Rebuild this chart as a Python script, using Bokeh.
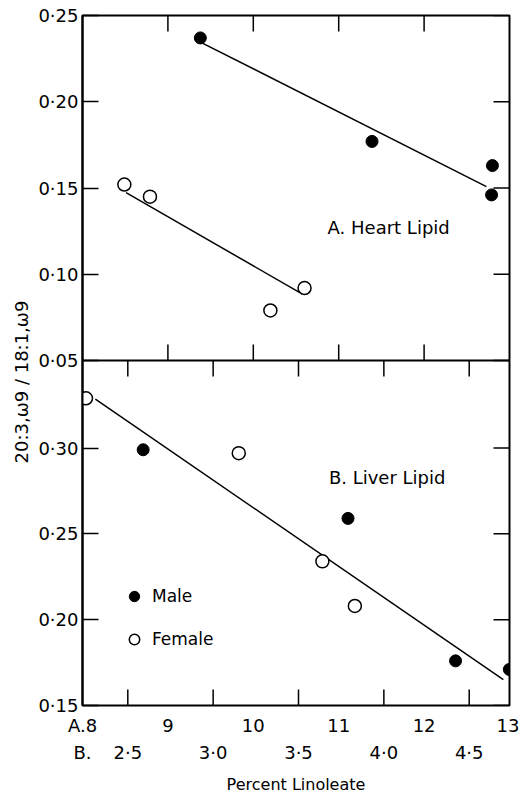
import math
from bokeh.plotting import figure
from bokeh.models import Range1d, LinearAxis, FixedTicker, Label, Span, Legend, LegendItem, Title
from bokeh.embed import file_html
from bokeh.resources import INLINE

# ---------------- data ----------------
# A. Heart lipid  (x: percent linoleate, scale A)
heart_male_x = [9.38, 11.39, 12.80, 12.79]
heart_male_y = [0.237, 0.177, 0.163, 0.146]
heart_female_x = [8.49, 8.79, 10.20, 10.60]
heart_female_y = [0.152, 0.145, 0.079, 0.092]
heart_male_fit_x = [9.38, 12.73]
heart_male_fit_y = [0.2346, 0.1508]
heart_female_fit_x = [8.51, 10.54]
heart_female_fit_y = [0.1473, 0.0895]

# B. Liver lipid  (x: percent linoleate, scale B)
liver_male_x = [2.59, 3.79, 4.42, 4.735]
liver_male_y = [0.299, 0.259, 0.176, 0.171]
liver_female_x = [2.255, 3.15, 3.64, 3.83]
liver_female_y = [0.329, 0.297, 0.234, 0.208]
liver_fit_x = [2.31, 4.70]
liver_fit_y = [0.3285, 0.1651]

# ticks
a_ticks = [8, 9, 10, 11, 12, 13]
a_tick_labels = ["A.8", "9", "10", "11", "12", "13"]
a_inner_ticks = [9, 10, 11, 12]
b_ticks = [2.5, 3.0, 3.5, 4.0, 4.5]
b_tick_labels = ["2·5", "3·0", "3·5", "4·0", "4·5"]
heart_y_ticks = [0.05, 0.10, 0.15, 0.20, 0.25]
heart_y_labels = ["0·05", "0·10", "0·15", "0·20", "0·25"]
liver_y_ticks = [0.15, 0.20, 0.25, 0.30]
liver_y_labels = ["0·15", "0·20", "0·25", "0·30"]

# ---------------- ranges ----------------
A_LO, A_HI = 8.0, 13.0
B_LO, B_HI = 2.2346, 4.736
HEART_LO, HEART_HI = 0.05, 0.25
LIVER_LO, LIVER_HI = 0.15, 0.351
TOP_FRAC = 0.5  # share of the frame height used by panel A

Y_LO = LIVER_LO
Y_HI = LIVER_LO + (LIVER_HI - LIVER_LO) / (1 - TOP_FRAC)
T_LO = HEART_HI - (HEART_HI - HEART_LO) / TOP_FRAC
T_HI = HEART_HI


def to_primary(v):
    return Y_LO + (v - T_LO) / (T_HI - T_LO) * (Y_HI - Y_LO)


Y_HI = to_primary(HEART_HI)

FONT = "DejaVu Sans"
FS = "18px"
INK = "black"
TICK = 16

p = figure(width=519, height=796, x_range=Range1d(A_LO, A_HI), y_range=Range1d(Y_LO, Y_HI),
           x_axis_location=None, y_axis_location=None, toolbar_location=None,
           output_backend="svg", min_border_left=82, min_border_right=10,
           min_border_top=15, min_border_bottom=80)
p.extra_x_ranges = {"B": Range1d(B_LO, B_HI)}
p.extra_y_ranges = {"top": Range1d(T_LO, T_HI)}
p.grid.visible = False
p.outline_line_color = INK
p.outline_line_width = 2
p.background_fill_color = "white"
p.border_fill_color = "white"

# left axis: ticks + labels of both panels
left_ticks = liver_y_ticks + [to_primary(v) for v in heart_y_ticks]
left_labels = dict(zip(left_ticks, liver_y_labels + heart_y_labels))
yl = LinearAxis(ticker=FixedTicker(ticks=left_ticks), major_label_overrides=left_labels)
yl.major_tick_in = TICK
yl.major_tick_out = 0
yl.minor_tick_in = 0
yl.minor_tick_out = 0
yl.major_tick_line_width = 1.5
yl.major_tick_line_color = INK
yl.axis_line_width = 2
yl.axis_line_color = INK
yl.major_label_standoff = 4
yl.major_label_text_font = FONT
yl.major_label_text_font_size = FS
yl.major_label_text_color = INK
p.add_layout(yl, "left")

# y axis title, shared by both panels
p.add_layout(Title(text="20:3,ω9 / 18:1,ω9", align="left", offset=242, standoff=8,
                   text_font=FONT, text_font_size=FS, text_font_style="normal",
                   text_color=INK), "left")

# row of A labels
xb1 = LinearAxis(ticker=FixedTicker(ticks=a_ticks),
                 major_label_overrides=dict(zip(a_ticks, a_tick_labels)))
xb1.axis_line_color = None
xb1.major_tick_line_color = None
xb1.minor_tick_line_color = None
xb1.major_tick_in = 0
xb1.major_tick_out = 0
xb1.minor_tick_out = 0
xb1.major_label_standoff = 9
xb1.major_label_text_font = FONT
xb1.major_label_text_font_size = FS
xb1.major_label_text_color = INK
p.add_layout(xb1, "below")

# row of B labels (with its "B." header at the left edge) + axis title
b_row_ticks = [B_LO] + b_ticks
b_row_labels = ["B."] + b_tick_labels
xb2 = LinearAxis(x_range_name="B", ticker=FixedTicker(ticks=b_row_ticks),
                 major_label_overrides=dict(zip(b_row_ticks, b_row_labels)),
                 axis_label="Percent Linoleate")
xb2.axis_line_color = None
xb2.major_tick_line_color = None
xb2.minor_tick_line_color = None
xb2.major_tick_in = 0
xb2.major_tick_out = 0
xb2.minor_tick_out = 0
xb2.major_label_standoff = 3
xb2.major_label_text_font = FONT
xb2.major_label_text_font_size = FS
xb2.major_label_text_color = INK
xb2.axis_label_standoff = 9
xb2.axis_label_text_font = FONT
xb2.axis_label_text_font_size = "16px"
xb2.axis_label_text_font_style = "normal"
xb2.axis_label_text_color = INK
p.add_layout(xb2, "below")

tick_style = dict(length=TICK, length_units="screen", line_color=INK, line_width=1.5)
# inner tick marks on the other frame edges
p.ray(x=a_inner_ticks, y=[Y_HI] * len(a_inner_ticks), angle=-math.pi / 2, **tick_style)
p.ray(x=b_ticks, y=[Y_LO] * len(b_ticks), angle=math.pi / 2, x_range_name="B", **tick_style)
p.ray(x=[A_HI] * len(left_ticks), y=left_ticks, angle=math.pi, **tick_style)

# boundary between the two panels, with its ticks
p.add_layout(Span(location=LIVER_HI, dimension="width", line_color=INK, line_width=2))
p.ray(x=a_inner_ticks, y=[LIVER_HI] * len(a_inner_ticks), angle=math.pi / 2, **tick_style)
p.ray(x=b_ticks, y=[LIVER_HI] * len(b_ticks), angle=-math.pi / 2, x_range_name="B", **tick_style)

# ---------------- panel A ----------------
p.line(heart_male_fit_x, heart_male_fit_y, y_range_name="top", line_color=INK, line_width=1.5)
p.line(heart_female_fit_x, heart_female_fit_y, y_range_name="top", line_color=INK, line_width=1.5)
p.scatter(heart_male_x, heart_male_y, y_range_name="top", size=12, marker="circle",
          fill_color=INK, line_color=INK)
p.scatter(heart_female_x, heart_female_y, y_range_name="top", size=13, marker="circle",
          fill_color="white", line_color=INK, line_width=1.5)

# ---------------- panel B ----------------
p.line(liver_fit_x, liver_fit_y, x_range_name="B", line_color=INK, line_width=1.5)
r_male = p.scatter(liver_male_x, liver_male_y, x_range_name="B", size=12, marker="circle",
                   fill_color=INK, line_color=INK)
r_female = p.scatter(liver_female_x, liver_female_y, x_range_name="B", size=13, marker="circle",
                     fill_color="white", line_color=INK, line_width=1.5)

# panel titles
p.add_layout(Label(x=10.87, y=0.127, y_range_name="top", text="A. Heart Lipid",
                   text_font=FONT, text_font_size=FS, text_color=INK,
                   text_align="left", text_baseline="middle"))
p.add_layout(Label(x=3.678, y=0.2826, x_range_name="B", text="B. Liver Lipid",
                   text_font=FONT, text_font_size=FS, text_color=INK,
                   text_align="left", text_baseline="middle"))

legend = Legend(items=[LegendItem(label="Male", renderers=[r_male]),
                       LegendItem(label="Female", renderers=[r_female])],
                location=(39, 53), glyph_width=26, glyph_height=26, spacing=17,
                padding=0, margin=0, label_standoff=5,
                label_text_font=FONT, label_text_font_size="17px", label_text_color=INK,
                border_line_color=None, background_fill_alpha=0)
p.add_layout(legend)

open("out.html", "w", encoding="utf-8").write(file_html(p, INLINE))
